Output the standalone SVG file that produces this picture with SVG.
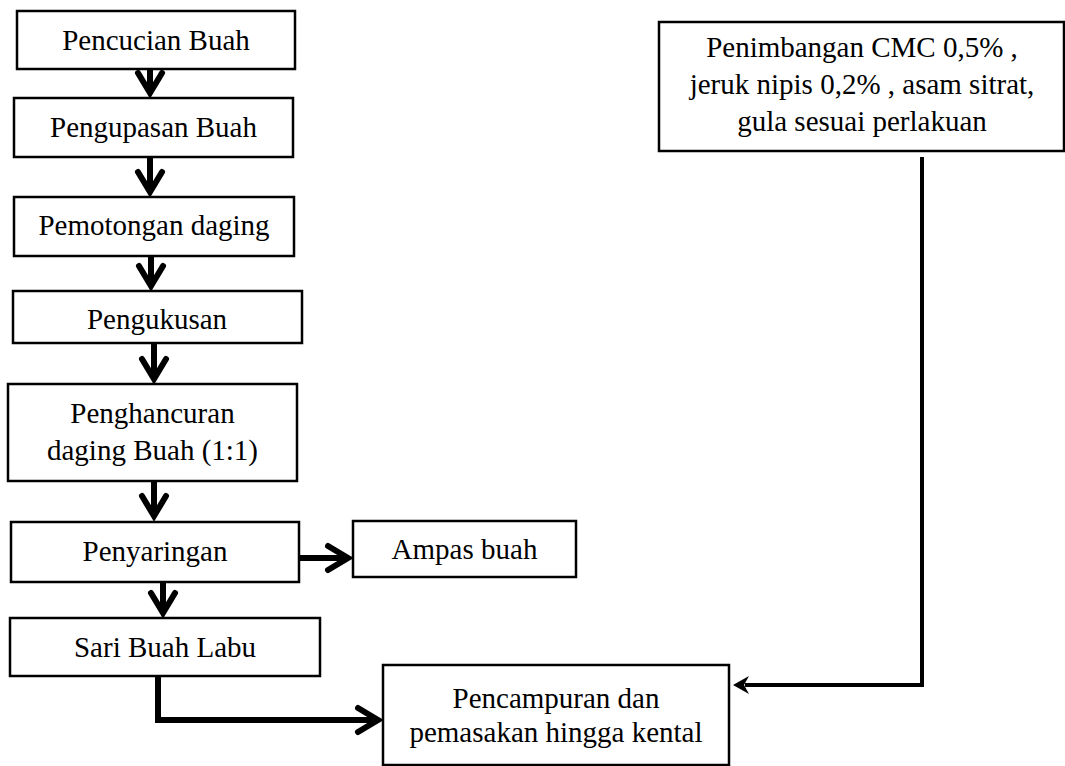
<svg xmlns="http://www.w3.org/2000/svg" width="1065" height="766" viewBox="0 0 1065 766">
<style>
  .box { fill: #fff; stroke: #000; stroke-width: 2.5; }
  .lbl { font-family: "Liberation Serif", "Times New Roman", serif; font-size: 29px; fill: #000; text-anchor: middle; }
  .thick { fill: none; stroke: #000; stroke-width: 6; marker-end: url(#chev); }
  .thin { fill: none; stroke: #000; stroke-width: 4; marker-end: url(#tri); }
</style>
<defs>
  <marker id="chev" markerUnits="userSpaceOnUse" viewBox="-30 -20 40 40" markerWidth="40" markerHeight="40" refX="0" refY="0" orient="auto" overflow="visible">
    <path d="M-20,-12 L0,0 L-20,12" fill="none" stroke="#000" stroke-width="6" stroke-linecap="round" stroke-linejoin="miter"/>
  </marker>
  <marker id="tri" markerUnits="userSpaceOnUse" viewBox="-20 -15 40 30" markerWidth="40" markerHeight="30" refX="0" refY="0" orient="auto" overflow="visible">
    <path d="M12,0 L-4,-9 L1,0 L-4,9 Z" fill="#000"/>
  </marker>
</defs>
<rect width="1065" height="766" fill="#fff"/>
<g id="connectors">
  <path class="thick" d="M150,69 V93"/>
  <path class="thick" d="M150,157 V192"/>
  <path class="thick" d="M151,257 V286"/>
  <path class="thick" d="M154,343 V379"/>
  <path class="thick" d="M154,481 V516"/>
  <path class="thick" d="M300,558 H348"/>
  <path class="thick" d="M163,583 V613"/>
  <path class="thick" d="M158,677 V720 H378"/>
  <path class="thin" d="M922,157 V685 H745"/>
</g>
<g id="n1"><rect class="box" x="17" y="11" width="278" height="58"/><text class="lbl" x="156" y="50">Pencucian Buah</text></g>
<g id="n2"><rect class="box" x="14" y="98" width="279" height="59"/><text class="lbl" x="153.5" y="137">Pengupasan Buah</text></g>
<g id="n3"><rect class="box" x="14" y="197" width="280" height="59"/><text class="lbl" x="154" y="235">Pemotongan daging</text></g>
<g id="n4"><rect class="box" x="13" y="291" width="289" height="52"/><text class="lbl" x="157" y="329">Pengukusan</text></g>
<g id="n5"><rect class="box" x="8" y="384" width="289" height="97"/><text class="lbl" x="152.5" y="423">Penghancuran</text><text class="lbl" x="152.5" y="460">daging Buah (1:1)</text></g>
<g id="n6"><rect class="box" x="11" y="522" width="288" height="60"/><text class="lbl" x="155" y="561">Penyaringan</text></g>
<g id="n7"><rect class="box" x="353" y="521" width="223" height="56"/><text class="lbl" x="464.5" y="559">Ampas buah</text></g>
<g id="n8"><rect class="box" x="10" y="618" width="310" height="58"/><text class="lbl" x="165" y="657">Sari Buah Labu</text></g>
<g id="n9"><rect class="box" x="383" y="665" width="346" height="100"/><text class="lbl" x="556" y="708">Pencampuran dan</text><text class="lbl" x="556" y="742">pemasakan hingga kental</text></g>
<g id="n10"><rect class="box" x="659" y="22" width="405" height="129"/><text class="lbl" x="862" y="57">Penimbangan CMC 0,5% ,</text><text class="lbl" x="862" y="94">jeruk nipis 0,2% , asam sitrat,</text><text class="lbl" x="862" y="131">gula sesuai perlakuan</text></g>
</svg>
